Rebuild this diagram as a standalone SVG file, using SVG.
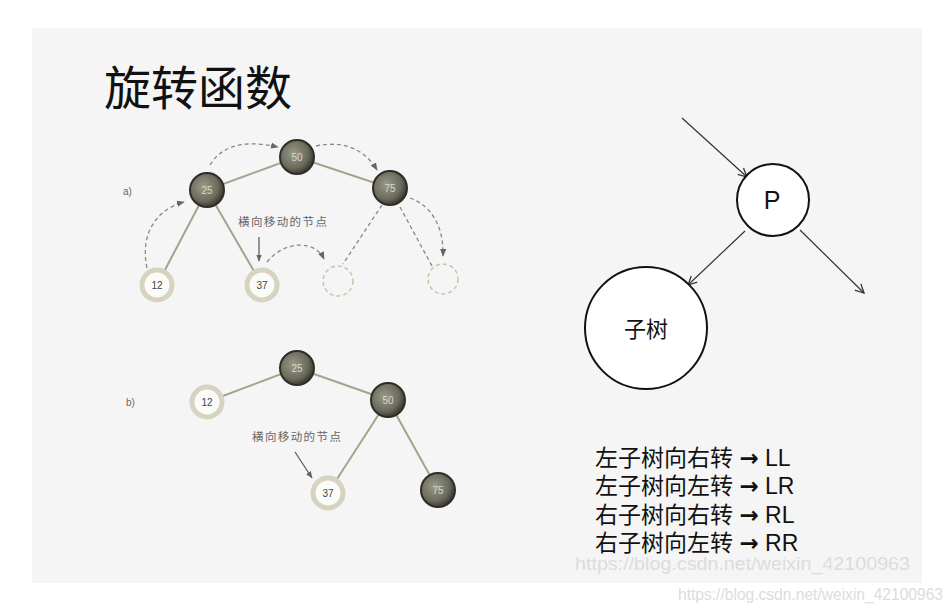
<svg xmlns="http://www.w3.org/2000/svg" width="951" height="611" viewBox="0 0 951 611">
<defs>
<radialGradient id="dark" cx="0.4" cy="0.4" r="0.6">
<stop offset="0" stop-color="#9a9a88"/>
<stop offset="0.7" stop-color="#6c6b5c"/>
<stop offset="1" stop-color="#3e3d35"/>
</radialGradient>
<marker id="ahb" viewBox="0 0 10 10" refX="9" refY="5" markerWidth="9" markerHeight="9" orient="auto-start-reverse">
<path d="M1,1 L9,5 L1,9" fill="none" stroke="#333" stroke-width="1.2"/>
</marker>
<marker id="ahd" viewBox="0 0 10 10" refX="9" refY="5" markerWidth="6" markerHeight="6" orient="auto-start-reverse">
<path d="M0,1 L10,5 L0,9 Z" fill="#666"/>
</marker>
</defs>
<style>
.dk{fill:url(#dark);stroke:#2e2d28;stroke-width:2}
.lt{fill:#fbfbf8;stroke:#d6d3c0;stroke-width:5}
.ghost{fill:none;stroke:#c9c4a8;stroke-width:1.5;stroke-dasharray:4 3}
.edge{stroke:#a6a38c;stroke-width:2;fill:none}
.dash{stroke:#8a8a82;stroke-width:1.3;fill:none;stroke-dasharray:4 3}
.nd{font-family:"Liberation Sans",Arial,sans-serif;font-size:10px;text-anchor:middle;fill:#d8d8cc}
.nl{font-family:"Liberation Sans",Arial,sans-serif;font-size:10px;text-anchor:middle;fill:#444}
.cap{font-family:"Noto Sans CJK SC",sans-serif;font-size:11.5px;letter-spacing:1.4px;fill:#666}
.lb{font-family:"Liberation Sans",Arial,sans-serif;font-size:10px;fill:#666}
.bk{fill:#fff;stroke:#111;stroke-width:2}
.ln{stroke:#333;stroke-width:1.2;fill:none}
.list{font-family:"Liberation Sans","Noto Sans CJK SC",sans-serif;font-size:23px;fill:#111}
.arr{font-family:"DejaVu Sans",sans-serif;font-weight:bold}
.wm{font-family:"Liberation Sans",Arial,sans-serif;fill:#dcdcdc}
</style>
<rect x="0" y="0" width="951" height="611" fill="#ffffff"/>
<rect x="32" y="28" width="890" height="555" fill="#f5f5f5"/>
<text x="104" y="105" font-family="Noto Sans CJK SC,sans-serif" font-size="47" fill="#111">旋转函数</text>

<g id="connectors">
<line class="edge" x1="297" y1="157" x2="207" y2="190"/>
<line class="edge" x1="297" y1="157" x2="390" y2="188"/>
<line class="edge" x1="207" y1="190" x2="157" y2="285"/>
<line class="edge" x1="207" y1="190" x2="262" y2="285"/>
<path class="dash" d="M147,268 C140,235 155,210 184,202" marker-end="url(#ahd)"/>
<path class="dash" d="M210,165 C225,140 255,142 278,147" marker-end="url(#ahd)"/>
<path class="dash" d="M316,146 C345,140 365,150 377,170" marker-end="url(#ahd)"/>
<path class="dash" d="M267,262 C285,240 315,240 324,259" marker-end="url(#ahd)"/>
<path class="dash" d="M410,198 C430,205 444,225 443,256" marker-end="url(#ahd)"/>
<line class="dash" x1="382" y1="205" x2="343" y2="264"/>
<line class="dash" x1="400" y1="207" x2="432" y2="266"/>
<line x1="259" y1="237" x2="259" y2="261" stroke="#555" stroke-width="1.2" marker-end="url(#ahd)"/>

<line class="edge" x1="297" y1="368" x2="207" y2="402"/>
<line class="edge" x1="297" y1="368" x2="388" y2="400"/>
<line class="edge" x1="388" y1="400" x2="328" y2="493"/>
<line class="edge" x1="388" y1="400" x2="438" y2="490"/>
<line x1="295" y1="452" x2="312" y2="478" stroke="#555" stroke-width="1.2" marker-end="url(#ahd)"/>

<line class="ln" x1="682" y1="118" x2="747" y2="177" marker-end="url(#ahb)"/>
<line class="ln" x1="745" y1="231" x2="688" y2="285" marker-end="url(#ahb)"/>
<line class="ln" x1="800" y1="230" x2="864" y2="293" marker-end="url(#ahb)"/>
</g>

<text class="lb" x="123" y="195">a)</text>
<text class="cap" x="238" y="226">横向移动的节点</text>
<text class="lb" x="126" y="406">b)</text>
<text class="cap" x="252" y="441">横向移动的节点</text>

<g id="a50"><circle class="dk" cx="297" cy="157" r="17"/><text class="nd" x="297" y="161">50</text></g>
<g id="a25"><circle class="dk" cx="207" cy="190" r="17"/><text class="nd" x="207" y="194">25</text></g>
<g id="a75"><circle class="dk" cx="390" cy="188" r="17"/><text class="nd" x="390" y="192">75</text></g>
<g id="a12"><circle class="lt" cx="157" cy="285" r="15"/><text class="nl" x="157" y="289">12</text></g>
<g id="a37"><circle class="lt" cx="262" cy="285" r="15"/><text class="nl" x="262" y="289">37</text></g>
<g id="aghost1"><circle class="ghost" cx="338" cy="281" r="15"/></g>
<g id="aghost2"><circle class="ghost" cx="443" cy="279" r="15"/></g>

<g id="b25"><circle class="dk" cx="297" cy="368" r="17"/><text class="nd" x="297" y="372">25</text></g>
<g id="b12"><circle class="lt" cx="207" cy="402" r="15"/><text class="nl" x="207" y="406">12</text></g>
<g id="b50"><circle class="dk" cx="388" cy="400" r="17"/><text class="nd" x="388" y="404">50</text></g>
<g id="b37"><circle class="lt" cx="328" cy="493" r="15"/><text class="nl" x="328" y="497">37</text></g>
<g id="b75"><circle class="dk" cx="438" cy="490" r="17"/><text class="nd" x="438" y="494">75</text></g>

<g id="P"><circle class="bk" cx="773" cy="200" r="36"/><text x="772" y="209" font-family="Liberation Sans,Arial,sans-serif" font-size="25" text-anchor="middle" fill="#111">P</text></g>
<g id="subtree"><circle class="bk" cx="646" cy="328" r="61"/><text x="646" y="337" font-family="Noto Sans CJK SC,sans-serif" font-size="22" text-anchor="middle" fill="#111">子树</text></g>

<text class="list" x="595" y="466">左子树向右转 <tspan class="arr">→</tspan> LL</text>
<text class="list" x="595" y="494">左子树向左转 <tspan class="arr">→</tspan> LR</text>
<text class="list" x="595" y="523">右子树向右转 <tspan class="arr">→</tspan> RL</text>
<text class="list" x="595" y="551">右子树向左转 <tspan class="arr">→</tspan> RR</text>

<text class="wm" x="575" y="570" font-size="18" textLength="335" lengthAdjust="spacingAndGlyphs">https://blog.csdn.net/weixin_42100963</text>
<text class="wm" x="678" y="600" font-size="16" textLength="265" lengthAdjust="spacingAndGlyphs">https://blog.csdn.net/weixin_42100963</text>
</svg>
